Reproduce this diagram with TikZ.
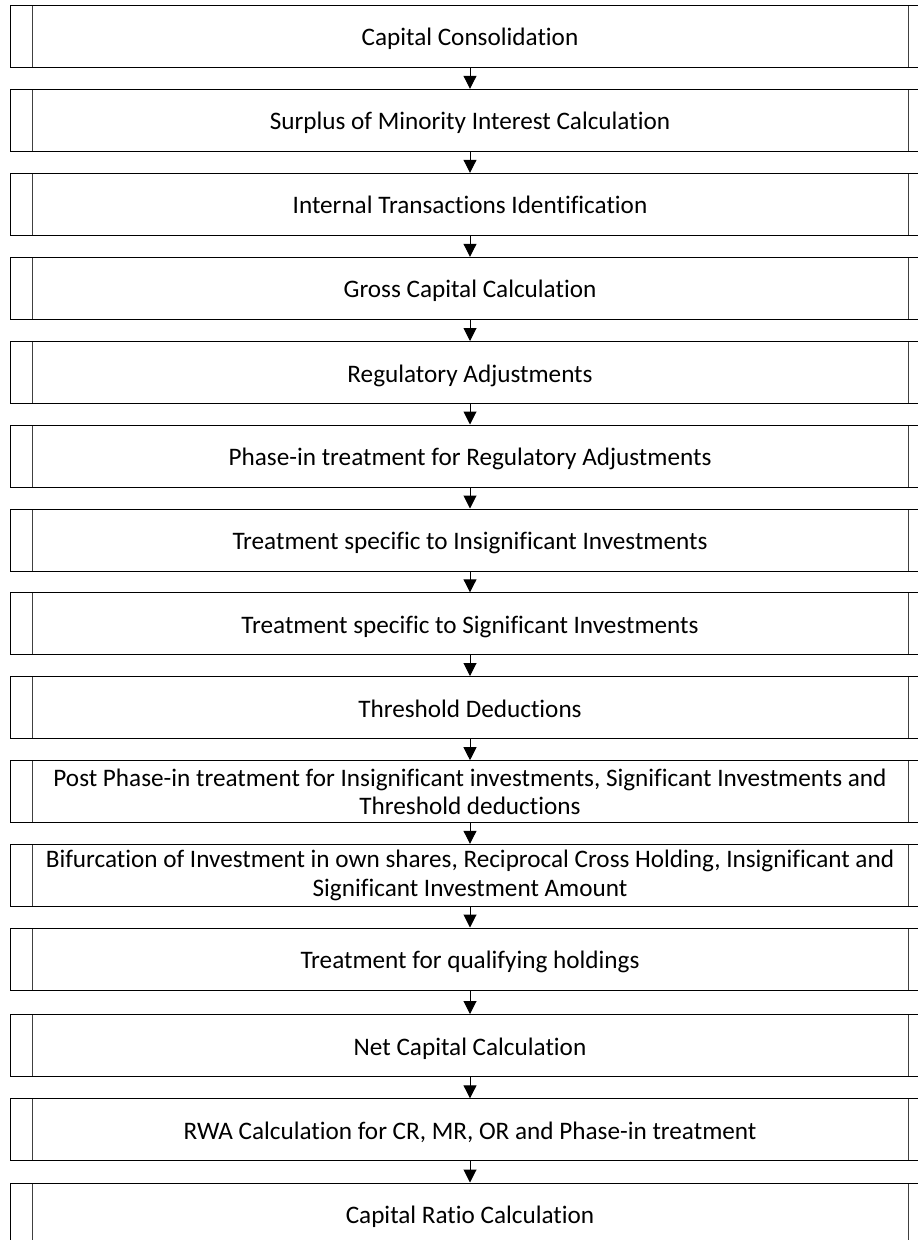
\documentclass[tikz,border=0pt]{standalone}
\usepackage{fontspec}
\setmainfont{Carlito}[Ligatures=NoCommon]
\usetikzlibrary{arrows.meta}
\tikzset{
  proc/.style={draw=black, line width=1pt, rectangle, minimum width=919pt, minimum height=62pt,
    inner sep=0pt, align=center, font=\fontsize{25.2pt}{28.5pt}\selectfont,
    path picture={\draw[line width=1pt, draw=black!75]
        ([xshift=21.5pt]path picture bounding box.north west) -- ([xshift=21.5pt]path picture bounding box.south west);
      \draw[line width=1pt, draw=black!75]
        ([xshift=-21.5pt]path picture bounding box.north east) -- ([xshift=-21.5pt]path picture bounding box.south east);}},
  one/.style={proc, text height=21.5pt, text depth=2.5pt},
  flow/.style={draw=black, line width=1pt, -{Triangle[width=13pt,length=13pt]}}
}
\begin{document}
\begin{tikzpicture}[x=1pt,y=-1pt]
\useasboundingbox (0,0) rectangle (918,1240);
\clip (0,0) rectangle (918,1240);
\node[one] (n1) at (470,36.4) {Capital Consolidation};
\node[one] (n2) at (470,120.3) {Surplus of Minority Interest Calculation};
\node[one] (n3) at (470,204.3) {Internal Transactions Identification};
\node[one] (n4) at (470,288.3) {Gross Capital Calculation};
\node[one] (n5) at (470,372.5) {Regulatory Adjustments};
\node[one] (n6) at (470,456) {Phase-in treatment for Regulatory Adjustments};
\node[one] (n7) at (470,540) {Treatment specific to Insignificant Investments};
\node[one] (n8) at (470,623.8) {Treatment specific to Significant Investments};
\node[one] (n9) at (470,707.5) {Threshold Deductions};
\node[proc] (n10) at (470,791.7) {Post Phase-in treatment for Insignificant investments, Significant Investments and\\Threshold deductions};
\node[proc] (n11) at (470,875.3) {Bifurcation of Investment in own shares, Reciprocal Cross Holding, Insignificant and\\Significant Investment Amount};
\node[one] (n12) at (470,959) {Treatment for qualifying holdings};
\node[one] (n13) at (470,1045.5) {Net Capital Calculation};
\node[one] (n14) at (470,1129.8) {RWA Calculation for CR, MR, OR and Phase-in treatment};
\node[one] (n15) at (470,1214) {Capital Ratio Calculation};
\foreach \a/\b in {n1/n2,n2/n3,n3/n4,n4/n5,n5/n6,n6/n7,n7/n8,n8/n9,n9/n10,n10/n11,n11/n12,n12/n13,n13/n14,n14/n15}
  \draw[flow] (\a.south) -- (\b.north);
\end{tikzpicture}
\end{document}
